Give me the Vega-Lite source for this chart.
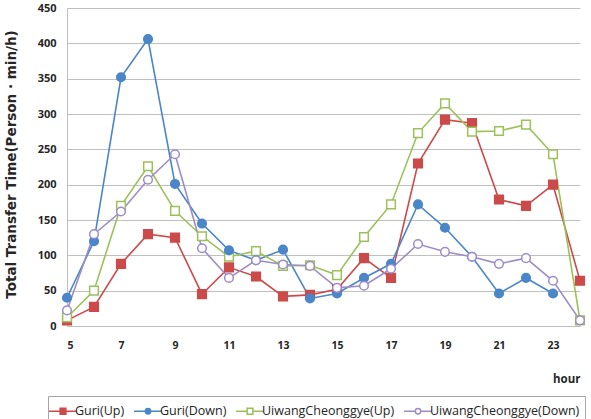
{
  "$schema": "https://vega.github.io/schema/vega-lite/v6.json",
  "width": 513,
  "height": 318,
  "autosize": "none",
  "padding": {"left": 67, "top": 8, "right": 11, "bottom": 93},
  "background": "white",
  "config": {
    "view": {"stroke": null},
    "font": "Open Sans"
  },
  "data": {
    "values": [
      {"hour": 5, "series": "Guri(Up)", "value": 8},
      {"hour": 6, "series": "Guri(Up)", "value": 27},
      {"hour": 7, "series": "Guri(Up)", "value": 88},
      {"hour": 8, "series": "Guri(Up)", "value": 130},
      {"hour": 9, "series": "Guri(Up)", "value": 125},
      {"hour": 10, "series": "Guri(Up)", "value": 45},
      {"hour": 11, "series": "Guri(Up)", "value": 83},
      {"hour": 12, "series": "Guri(Up)", "value": 70},
      {"hour": 13, "series": "Guri(Up)", "value": 42},
      {"hour": 14, "series": "Guri(Up)", "value": 44},
      {"hour": 15, "series": "Guri(Up)", "value": 52},
      {"hour": 16, "series": "Guri(Up)", "value": 96},
      {"hour": 17, "series": "Guri(Up)", "value": 68},
      {"hour": 18, "series": "Guri(Up)", "value": 230},
      {"hour": 19, "series": "Guri(Up)", "value": 292},
      {"hour": 20, "series": "Guri(Up)", "value": 287},
      {"hour": 21, "series": "Guri(Up)", "value": 179},
      {"hour": 22, "series": "Guri(Up)", "value": 170},
      {"hour": 23, "series": "Guri(Up)", "value": 200},
      {"hour": 24, "series": "Guri(Up)", "value": 64},
      {"hour": 5, "series": "Guri(Down)", "value": 40},
      {"hour": 6, "series": "Guri(Down)", "value": 120},
      {"hour": 7, "series": "Guri(Down)", "value": 352},
      {"hour": 8, "series": "Guri(Down)", "value": 406},
      {"hour": 9, "series": "Guri(Down)", "value": 201},
      {"hour": 10, "series": "Guri(Down)", "value": 145},
      {"hour": 11, "series": "Guri(Down)", "value": 107},
      {"hour": 12, "series": "Guri(Down)", "value": 93},
      {"hour": 13, "series": "Guri(Down)", "value": 108},
      {"hour": 14, "series": "Guri(Down)", "value": 39},
      {"hour": 15, "series": "Guri(Down)", "value": 46},
      {"hour": 16, "series": "Guri(Down)", "value": 68},
      {"hour": 17, "series": "Guri(Down)", "value": 88},
      {"hour": 18, "series": "Guri(Down)", "value": 172},
      {"hour": 19, "series": "Guri(Down)", "value": 139},
      {"hour": 20, "series": "Guri(Down)", "value": 98},
      {"hour": 21, "series": "Guri(Down)", "value": 46},
      {"hour": 22, "series": "Guri(Down)", "value": 68},
      {"hour": 23, "series": "Guri(Down)", "value": 46},
      {"hour": 5, "series": "UiwangCheonggye(Up)", "value": 12},
      {"hour": 6, "series": "UiwangCheonggye(Up)", "value": 50},
      {"hour": 7, "series": "UiwangCheonggye(Up)", "value": 170},
      {"hour": 8, "series": "UiwangCheonggye(Up)", "value": 226},
      {"hour": 9, "series": "UiwangCheonggye(Up)", "value": 163},
      {"hour": 10, "series": "UiwangCheonggye(Up)", "value": 127},
      {"hour": 11, "series": "UiwangCheonggye(Up)", "value": 98},
      {"hour": 12, "series": "UiwangCheonggye(Up)", "value": 106},
      {"hour": 13, "series": "UiwangCheonggye(Up)", "value": 85},
      {"hour": 14, "series": "UiwangCheonggye(Up)", "value": 86},
      {"hour": 15, "series": "UiwangCheonggye(Up)", "value": 72},
      {"hour": 16, "series": "UiwangCheonggye(Up)", "value": 126},
      {"hour": 17, "series": "UiwangCheonggye(Up)", "value": 172},
      {"hour": 18, "series": "UiwangCheonggye(Up)", "value": 273},
      {"hour": 19, "series": "UiwangCheonggye(Up)", "value": 315},
      {"hour": 20, "series": "UiwangCheonggye(Up)", "value": 275},
      {"hour": 21, "series": "UiwangCheonggye(Up)", "value": 276},
      {"hour": 22, "series": "UiwangCheonggye(Up)", "value": 285},
      {"hour": 23, "series": "UiwangCheonggye(Up)", "value": 243},
      {"hour": 24, "series": "UiwangCheonggye(Up)", "value": 8},
      {"hour": 5, "series": "UiwangCheonggye(Down)", "value": 22},
      {"hour": 6, "series": "UiwangCheonggye(Down)", "value": 130},
      {"hour": 7, "series": "UiwangCheonggye(Down)", "value": 162},
      {"hour": 8, "series": "UiwangCheonggye(Down)", "value": 207},
      {"hour": 9, "series": "UiwangCheonggye(Down)", "value": 243},
      {"hour": 10, "series": "UiwangCheonggye(Down)", "value": 110},
      {"hour": 11, "series": "UiwangCheonggye(Down)", "value": 68},
      {"hour": 12, "series": "UiwangCheonggye(Down)", "value": 93},
      {"hour": 13, "series": "UiwangCheonggye(Down)", "value": 87},
      {"hour": 14, "series": "UiwangCheonggye(Down)", "value": 85},
      {"hour": 15, "series": "UiwangCheonggye(Down)", "value": 54},
      {"hour": 16, "series": "UiwangCheonggye(Down)", "value": 57},
      {"hour": 17, "series": "UiwangCheonggye(Down)", "value": 81},
      {"hour": 18, "series": "UiwangCheonggye(Down)", "value": 116},
      {"hour": 19, "series": "UiwangCheonggye(Down)", "value": 105},
      {"hour": 20, "series": "UiwangCheonggye(Down)", "value": 98},
      {"hour": 21, "series": "UiwangCheonggye(Down)", "value": 88},
      {"hour": 22, "series": "UiwangCheonggye(Down)", "value": 96},
      {"hour": 23, "series": "UiwangCheonggye(Down)", "value": 64},
      {"hour": 24, "series": "UiwangCheonggye(Down)", "value": 8}
    ]
  },
  "encoding": {
    "x": {
      "field": "hour",
      "type": "quantitative",
      "scale": {"domain": [5, 24], "nice": false, "zero": false},
      "axis": {
        "values": [5, 7, 9, 11, 13, 15, 17, 19, 21, 23],
        "grid": false,
        "ticks": false,
        "domainColor": "#bfbfbf",
        "labelFont": "Open Sans",
        "labelFontWeight": "bold",
        "labelFontSize": 10.5,
        "labelColor": "#262626",
        "labelPadding": 14,
        "title": "hour",
        "titleFont": "Open Sans",
        "titleFontWeight": "bold",
        "titleFontSize": 11.5,
        "titleColor": "#262626",
        "titleAnchor": "end",
        "titleAlign": "right",
        "titleX": 513,
        "titleY": 56,
        "titleBaseline": "alphabetic"
      }
    },
    "y": {
      "field": "value",
      "type": "quantitative",
      "scale": {"domain": [0, 450], "nice": false},
      "axis": {
        "values": [0, 50, 100, 150, 200, 250, 300, 350, 400, 450],
        "grid": true,
        "gridColor": "#bfbfbf",
        "gridWidth": 1,
        "ticks": false,
        "domainColor": "#bfbfbf",
        "labelFont": "Open Sans",
        "labelFontWeight": "bold",
        "labelFontSize": 11,
        "labelColor": "#262626",
        "labelPadding": 11,
        "title": "Total Transfer Time(Person · min/h)",
        "titleFont": "DejaVu Sans",
        "titleFontWeight": "bold",
        "titleFontSize": 13.5,
        "titleColor": "#262626",
        "titleX": -52,
        "titleY": 156,
        "titleAngle": 270,
        "titleAlign": "center",
        "titleBaseline": "alphabetic"
      }
    },
    "stroke": {
      "field": "series",
      "type": "nominal",
      "sort": ["Guri(Up)", "Guri(Down)", "UiwangCheonggye(Up)", "UiwangCheonggye(Down)"],
      "scale": {
        "domain": ["Guri(Up)", "Guri(Down)", "UiwangCheonggye(Up)", "UiwangCheonggye(Down)"],
        "range": ["#cc4a4a", "#4a86c8", "#9cc05a", "#9d8cc8"]
      },
      "legend": {
        "orient": "none",
        "legendX": -19,
        "legendY": 388,
        "direction": "horizontal",
        "columns": 4,
        "title": null,
        "strokeColor": "#a6a6a6",
        "padding": 5,
        "columnPadding": 6,
        "labelFont": "Open Sans",
        "labelFontSize": 12.5,
        "labelColor": "#262626",
        "labelOffset": 2,
        "symbolSize": 324,
        "symbolStrokeWidth": 1.5,
        "encode": {
          "symbols": {
            "update": {
              "shape": {"signal": "(datum.value === 'Guri(Up)' || datum.value === 'UiwangCheonggye(Up)') ? 'M-1.55,0H-0.32M0.32,0H1.55M-0.32,-0.32H0.32V0.32H-0.32Z' : 'M-1.55,0H-0.3M0.3,0H1.55M-0.3,0A0.3,0.3 0 1,0 0.3,0A0.3,0.3 0 1,0 -0.3,0Z'"},
              "fill": {"signal": "datum.value === 'Guri(Up)' ? '#cc4a4a' : datum.value === 'Guri(Down)' ? '#4a86c8' : '#ffffff'"},
              "fillOpacity": {"value": 1}
            }
          }
        }
      }
    }
  },
  "layer": [
    {
      "mark": {"type": "line", "strokeWidth": 1.6},
      "encoding": {"detail": {"field": "series", "type": "nominal"}}
    },
    {
      "transform": [{"filter": "datum.series === 'Guri(Up)' || datum.series === 'UiwangCheonggye(Up)'"}],
      "mark": {"type": "point", "shape": "square", "strokeWidth": 1.5, "opacity": 1, "size": 75},
      "encoding": {
        "fill": {
          "field": "series",
          "type": "nominal",
          "scale": {
            "domain": ["Guri(Up)", "Guri(Down)", "UiwangCheonggye(Up)", "UiwangCheonggye(Down)"],
            "range": ["#cc4a4a", "#4a86c8", "#ffffff", "#ffffff"]
          },
          "legend": null
        }
      }
    },
    {
      "transform": [{"filter": "datum.series === 'Guri(Down)' || datum.series === 'UiwangCheonggye(Down)'"}],
      "mark": {"type": "point", "shape": "circle", "strokeWidth": 1.5, "opacity": 1, "size": 75},
      "encoding": {
        "fill": {
          "field": "series",
          "type": "nominal",
          "legend": null
        }
      }
    }
  ]
}
